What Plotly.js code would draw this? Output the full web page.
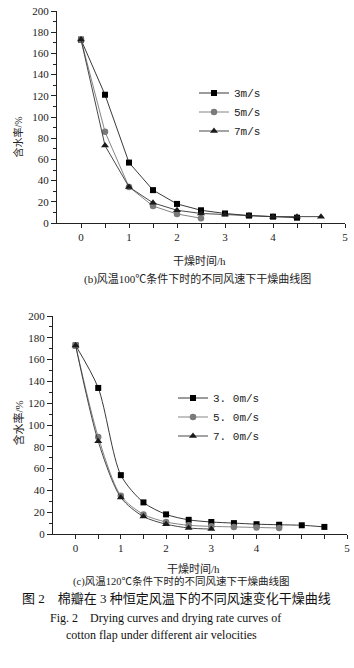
<!DOCTYPE html>
<html>
<head>
<meta charset="utf-8">
<script src="https://cdn.plot.ly/plotly-3.0.1.min.js"></script>
<style>html,body{margin:0;padding:0;background:#fff;}#chart{width:354px;height:668px;}</style>
</head>
<body>
<div id="chart"></div>
<script>
// ---- Data: (b) 100 °C ----
const timeB3 = [0, 0.5, 1, 1.5, 2, 2.5, 3, 3.5, 4, 4.5];
const moistB3 = [173, 121, 57, 31, 18, 12, 9, 7, 6, 5];
const timeB5 = [0, 0.5, 1, 1.5, 2, 2.5];
const moistB5 = [173, 86, 34, 16, 8.5, 4.5];
const timeB7 = [0, 0.5, 1, 1.5, 2, 2.5, 3, 3.5, 4, 4.5, 5];
const moistB7 = [173, 73, 34, 19, 12, 9, 8, 7, 6, 6, 6];
const namesB = ['3m/s', '5m/s', '7m/s'];

// ---- Data: (c) 120 °C ----
const timeC3 = [0, 0.5, 1, 1.5, 2, 2.5, 3, 3.5, 4, 4.5, 5, 5.5];
const moistC3 = [173, 134, 54, 29, 18, 13, 11, 10, 9, 8.5, 8, 6.5];
const timeC5 = [0, 0.5, 1, 1.5, 2, 2.5, 3, 3.5, 4, 4.5];
const moistC5 = [173, 89, 35, 18, 11, 8, 7, 6.5, 6, 5.5];
const timeC7 = [0, 0.5, 1, 1.5, 2, 2.5, 3];
const moistC7 = [173, 85, 33.5, 16, 9, 5.5, 4.5];
const namesC = ['3. 0m/s', '5. 0m/s', '7. 0m/s'];

// ---- Tick labels (as printed in the figure) ----
const xTickValsB = [0, 0.5, 1, 1.5, 2, 2.5, 3, 3.5, 4, 4.5, 5, 5.5];
const xTickTextB = ['0', '', '1', '', '2', '', '3', '', '4', '', '', '5'];
const xTickValsC = [0, 0.5, 1, 1.5, 2, 2.5, 3, 3.5, 4, 4.5, 5, 5.5, 6];
const xTickTextC = ['0', '', '1', '', '2', '', '3', '', '4', '', '', '', '5'];

const yTitle = '含水率/%';
const xTitle = '干燥时间/h';
const capB = '(b)风温100℃条件下时的不同风速下干燥曲线图';
const capC = '(c)风温120℃条件下时的不同风速下干燥曲线图';
const figCn = '图 2　棉瓣在 3 种恒定风温下的不同风速变化干燥曲线';
const figEn1 = 'Fig. 2　Drying curves and drying rate curves of';
const figEn2 = 'cotton flap under different air velocities';

const W = 354, H = 668;
const py = p => 1 - p / H;
const px = p => p / W;
const FONT = 'Liberation Serif, Noto Sans CJK SC, serif';
const MONO = 'Liberation Mono, monospace';

const styles = [
  {symbol: 'square', color: '#000', line: '#222', size: 6},
  {symbol: 'circle', color: '#7a7a7a', line: '#777', size: 6.5},
  {symbol: 'triangle-up', color: '#1a1a1a', line: '#333', size: 7}
];

function mk(x, y, name, s, xa, ya, leg, shape) {
  return {
    x: x, y: y, name: name, type: 'scatter', mode: 'lines+markers',
    xaxis: xa, yaxis: ya, legend: leg,
    line: {color: s.line, width: 0.9, shape: shape, smoothing: 0.8},
    marker: {symbol: s.symbol, color: s.color, size: s.size}
  };
}

const traces = [
  mk(timeB3, moistB3, namesB[0], styles[0], 'x', 'y', 'legend', 'linear'),
  mk(timeB5, moistB5, namesB[1], styles[1], 'x', 'y', 'legend', 'linear'),
  mk(timeB7, moistB7, namesB[2], styles[2], 'x', 'y', 'legend', 'linear'),
  mk(timeC3, moistC3, namesC[0], styles[0], 'x2', 'y2', 'legend2', 'spline'),
  mk(timeC5, moistC5, namesC[1], styles[1], 'x2', 'y2', 'legend2', 'spline'),
  mk(timeC7, moistC7, namesC[2], styles[2], 'x2', 'y2', 'legend2', 'spline')
];

const axisCommon = {
  showgrid: false, zeroline: false, showline: true, linecolor: '#222', linewidth: 1,
  ticks: 'outside', tickcolor: '#222', tickwidth: 1,
  tickfont: {family: FONT, size: 11, color: '#222'}, fixedrange: true
};

const layout = {
  width: W, height: H,
  margin: {l: 0, r: 0, t: 0, b: 0},
  paper_bgcolor: '#fff', plot_bgcolor: '#fff',
  font: {family: FONT, color: '#222'},
  showlegend: true,
  xaxis: Object.assign({}, axisCommon, {
    domain: [px(57), px(345)], anchor: 'y', range: [-0.5, 5.5],
    tickmode: 'array', tickvals: xTickValsB, ticktext: xTickTextB, ticklen: 4
  }),
  yaxis: Object.assign({}, axisCommon, {
    domain: [py(223), py(11)], anchor: 'x', range: [0, 200], dtick: 20, ticklen: 5,
    minor: {dtick: 10, ticks: 'outside', ticklen: 3, tickcolor: '#222', showgrid: false}
  }),
  xaxis2: Object.assign({}, axisCommon, {
    domain: [px(53), px(347)], anchor: 'y2', range: [-0.5, 6],
    tickmode: 'array', tickvals: xTickValsC, ticktext: xTickTextC, ticklen: 4
  }),
  yaxis2: Object.assign({}, axisCommon, {
    domain: [py(534), py(316)], anchor: 'x2', range: [0, 200], dtick: 20, ticklen: 5,
    minor: {dtick: 10, ticks: 'outside', ticklen: 3, tickcolor: '#222', showgrid: false}
  }),
  legend: {
    x: px(194), y: py(112), xanchor: 'left', yanchor: 'middle',
    bgcolor: 'rgba(0,0,0,0)', font: {family: MONO, size: 11, color: '#222'},
    tracegroupgap: 0, itemwidth: 30
  },
  legend2: {
    x: px(173), y: py(417), xanchor: 'left', yanchor: 'middle',
    bgcolor: 'rgba(0,0,0,0)', font: {family: MONO, size: 11, color: '#222'},
    tracegroupgap: 0, itemwidth: 30
  },
  annotations: [
    {text: yTitle, xref: 'paper', yref: 'paper', x: px(10), y: py(115), textangle: -90,
     showarrow: false, font: {family: FONT, size: 10, color: '#222'}},
    {text: yTitle, xref: 'paper', yref: 'paper', x: px(9), y: py(423), textangle: -90,
     showarrow: false, font: {family: FONT, size: 11, color: '#222'}},
    {text: xTitle, xref: 'paper', yref: 'paper', x: px(199), y: py(261), showarrow: false,
     font: {family: FONT, size: 11, color: '#222'}},
    {text: capB, xref: 'paper', yref: 'paper', x: px(197), y: py(279), showarrow: false,
     font: {family: FONT, size: 11, color: '#222'}},
    {text: xTitle, xref: 'paper', yref: 'paper', x: px(193), y: py(577), showarrow: false,
     font: {family: FONT, size: 11, color: '#222'}},
    {text: capC, xref: 'paper', yref: 'paper', x: px(181), y: py(590), showarrow: false,
     font: {family: FONT, size: 10.5, color: '#222'}},
    {text: figCn, xref: 'paper', yref: 'paper', x: px(176), y: py(608), showarrow: false,
     font: {family: FONT, size: 13, color: '#111'}},
    {text: figEn1, xref: 'paper', yref: 'paper', x: px(165), y: py(627), showarrow: false,
     font: {family: FONT, size: 12, color: '#111'}},
    {text: figEn2, xref: 'paper', yref: 'paper', x: px(161), y: py(644), showarrow: false,
     font: {family: FONT, size: 12, color: '#111'}}
  ]
};

Plotly.newPlot('chart', traces, layout, {staticPlot: true, displayModeBar: false});
</script>
</body>
</html>
